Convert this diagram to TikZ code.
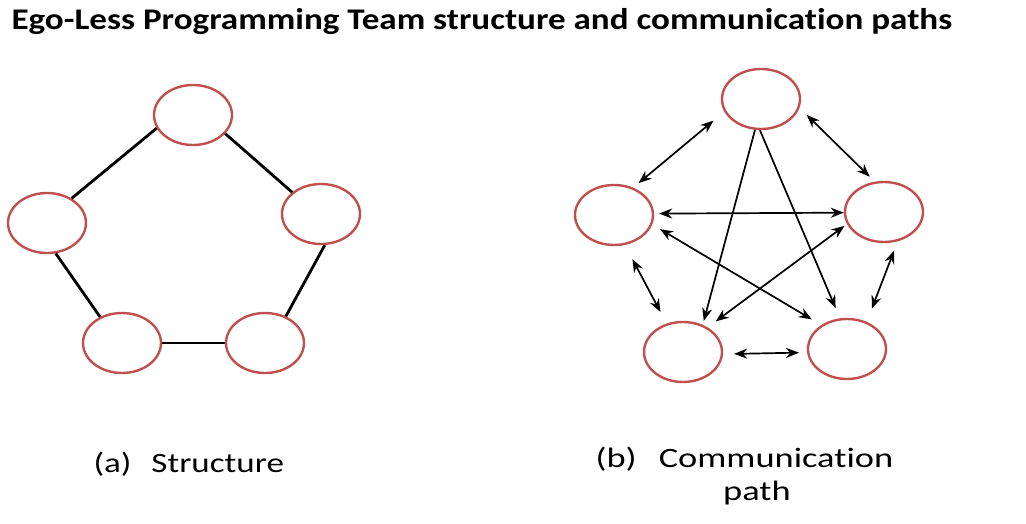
\documentclass[tikz,border=0pt]{standalone}
\usepackage{fontspec}
\setmainfont{Carlito}[Ligatures=NoCommon]
\usetikzlibrary{shapes.geometric,arrows.meta}
\definecolor{nodered}{RGB}{192,80,77}
\tikzset{
  member/.style={ellipse, draw=nodered, line width=2.4pt, minimum width=78pt, minimum height=60pt, inner sep=0pt},
  link/.style={line width=2.8pt},
  talk/.style={line width=1.7pt, {Stealth[length=13pt,width=10pt]}-{Stealth[length=13pt,width=10pt]}},
  talkto/.style={line width=1.7pt, -{Stealth[length=13pt,width=10pt]}},
  caption/.style={font=\fontsize{28}{34}\selectfont},
}
\begin{document}
\begin{tikzpicture}[x=1pt,y=-1pt]
      \useasboundingbox (0,0) rectangle (1026,524);
      \node[anchor=base west, font=\bfseries\fontsize{30}{36}\selectfont] (title) at (8,30)
        {\scalebox{1.17}[1]{Ego-Less Programming Team structure and communication paths}};
      % (a) structure
      \draw
        (193,115) node[member] (s1){}
        (321,214) node[member] (s2){}
        (265,343) node[member] (s3){}
        (122,343) node[member] (s4){}
        (47,223) node[member] (s5){};
      \begin{scope}[link]
        \draw (s1.-30) to (s2.143);
        \draw (s2.-83) to (s3.52);
        \draw (s3.180) to (s4.0);
        \draw (s4.130) to (s5.-74);
        \draw (s5.45) to (s1.200);
      \end{scope}
      % (b) communication paths
      \draw
        (761,99) node[member] (c1){}
        (884,212) node[member] (c2){}
        (847,349) node[member] (c3){}
        (683,352) node[member] (c4){}
        (614,215) node[member] (c5){};
      \begin{scope}[talk]
        \draw[shorten <=10pt, shorten >=7pt] (c1.-13) to (c2.107);
        \draw[shorten <=10pt, shorten >=14pt] (c2.-65) to (c3.54);
        \draw[shorten <=11pt, shorten >=8pt] (c4.-3) to (c3.185);
        \draw[shorten <=16pt, shorten >=13pt] (c5.-70) to (c4.120);
        \draw[shorten <=7pt, shorten >=14pt] (c5.55) to (c1.199);
        \draw[shorten <=5pt] (c5.2) to (c2.181);
        \draw[shorten <=9pt, shorten >=11pt] (c5.-14) to (c3.137);
        \draw[shorten <=3pt, shorten >=10pt] (c2.198) to (c4.45);
      \end{scope}
      \begin{scope}[talkto]
        \draw[shorten >=4pt] (c1.259) to (c4.54);
        \draw[shorten >=11pt] (c1.268) to (c3.103);
      \end{scope}
      % captions
      \node[caption, anchor=base west] (capa) at (90,472) {\scalebox{1.25}[1]{(a)\hspace{16pt}Structure}};
      \node[caption, anchor=base west] (capb) at (592,467) {\scalebox{1.3}[1]{(b)\hspace{17pt}Communication}};
      \node[caption, anchor=base] (capc) at (757,500) {\scalebox{1.3}[1]{path}};
    \end{tikzpicture}
\end{document}
